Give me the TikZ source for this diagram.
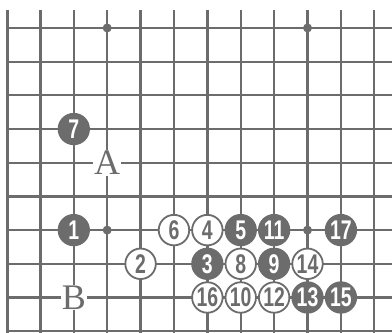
\documentclass[tikz,border=0pt]{standalone}
\usepackage{fontspec}
\usetikzlibrary{positioning}
\newfontfamily\stonefont[FakeStretch=0.72]{Liberation Sans}
\newfontfamily\letterfont{Liberation Serif}
\definecolor{inkgray}{RGB}{108,108,108}

\begin{document}
\begin{tikzpicture}[x=33.4pt,y=-33.7pt]
  \tikzstyle{bstone}=[circle,draw=inkgray,fill=inkgray,line width=1.8pt,minimum size=30.5pt,
    inner sep=0pt,text=white,font=\stonefont\bfseries\fontsize{27}{27}\selectfont]
  \tikzstyle{wstone}=[circle,draw=inkgray,fill=white,line width=1.8pt,minimum size=30.5pt,
    inner sep=0pt,text=inkgray,font=\stonefont\bfseries\fontsize{27}{27}\selectfont]
  \tikzstyle{hoshi}=[circle,fill=inkgray,minimum size=9pt,inner sep=0pt]
  \tikzstyle{letterbox}=[fill=white,inner sep=1pt,text=inkgray,font=\letterfont\fontsize{36}{36}\selectfont]
  \useasboundingbox (-0.21,-0.83) rectangle (11.53,9.05);
  % Board lines, left edge is the side of the board
  \foreach \c in {1,...,11}
    \draw[inkgray,line width=2.3pt] (\c,-0.53) -- (\c,9.05);
  \foreach \r in {0,...,9}
    \draw[inkgray,line width=2.3pt] (0,\r) -- (11.53,\r);
  \draw[inkgray,line width=3pt] (0,-0.53) -- (0,9.05);
  % Star points
  \node[hoshi] (s1) at (3,0) {};
  \node[hoshi] (s2) at (9,0) {};
  \node[hoshi] (s3) at (3,6) {};
  \node[hoshi] (s4) at (9,6) {};
  % Letter marks
  \node[letterbox] (ma) at (3,4) {A};
  \node[letterbox] (mb) at (2,8) {B};
  % Stones of the sequence
  \node[bstone] (b1) at (2,6) {1};
  \node[wstone] (w2) at (4,7) {2};
  \node[bstone] (b3) at (6,7) {3};
  \node[wstone] (w4) at (6,6) {4};
  \node[bstone] (b5) at (7,6) {5};
  \node[wstone] (w6) at (5,6) {6};
  \node[bstone] (b7) at (2,3) {7};
  \node[wstone] (w8) at (7,7) {8};
  \node[bstone] (b9) at (8,7) {9};
  \node[wstone] (w10) at (7,8) {10};
  \node[bstone] (b11) at (8,6) {11};
  \node[wstone] (w12) at (8,8) {12};
  \node[bstone] (b13) at (9,8) {13};
  \node[wstone] (w14) at (9,7) {14};
  \node[bstone] (b15) at (10,8) {15};
  \node[wstone] (w16) at (6,8) {16};
  \node[bstone] (b17) at (10,6) {17};
\end{tikzpicture}
\end{document}
